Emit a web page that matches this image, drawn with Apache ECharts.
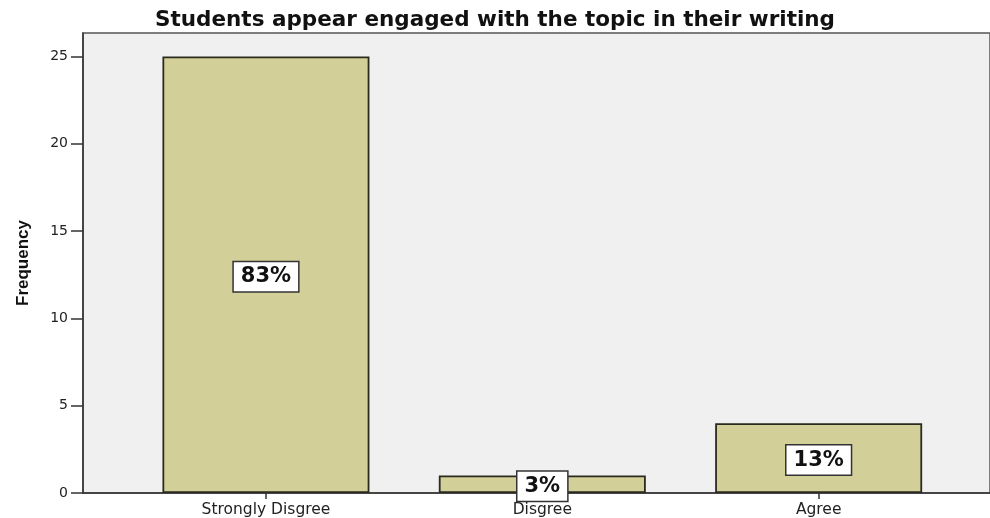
<!DOCTYPE html>
<html>
<head>
<meta charset="utf-8">
<script src="https://cdn.jsdelivr.net/npm/echarts@6/dist/echarts.min.js"></script>
<style>
  html, body { margin: 0; padding: 0; background: #ffffff; }
  #chart { width: 990px; height: 518px; }
</style>
</head>
<body>
<div id="chart"></div>
<script>
// Response categories and their frequencies
const categories = ['Strongly Disgree', 'Disgree', 'Agree'];
const frequencies = [25, 1, 4];
const yTicks = [0, 5, 10, 15, 20, 25];
const xPositions = [0, 1, 2];

const total = frequencies.reduce((a, b) => a + b, 0);
const percentLabels = frequencies.map(v => Math.round(v / total * 100) + '%');

const chart = echarts.init(document.getElementById('chart'), null, { renderer: 'canvas' });

const WIDE = "'DejaVu Sans', Verdana, sans-serif";
const ARIAL = "'Liberation Sans', Arial, sans-serif";

chart.setOption({
  animation: false,
  backgroundColor: '#ffffff',
  title: {
    text: 'Students appear engaged with the topic in their writing',
    left: 'center',
    top: 4,
    textStyle: { fontFamily: WIDE, fontSize: 21.5, fontWeight: 'bold', color: '#111111' }
  },
  grid: {
    left: 83, right: -1, top: 33, bottom: 24,
    show: true,
    backgroundColor: '#f0f0f0',
    borderColor: '#555555',
    borderWidth: 1.5
  },
  xAxis: {
    type: 'value',
    min: -0.662,
    max: 2.62,
    splitLine: { show: false },
    axisLine: { show: true, onZero: false, lineStyle: { color: '#333333', width: 1.5 } },
    axisTick: {
      show: true, length: 6,
      customValues: xPositions,
      lineStyle: { color: '#333333', width: 1.5 }
    },
    axisLabel: {
      customValues: xPositions,
      formatter: v => categories[Math.round(v)] || '',
      fontFamily: WIDE, fontSize: 15.5, color: '#222222', margin: 9
    }
  },
  yAxis: {
    type: 'value',
    min: 0,
    max: 26.34,
    name: 'Frequency',
    nameLocation: 'middle',
    nameGap: 51,
    nameTextStyle: { fontFamily: ARIAL, fontSize: 17, fontWeight: 'bold', color: '#111111' },
    splitLine: { show: false },
    axisLine: { show: true, onZero: false, lineStyle: { color: '#333333', width: 1.5 } },
    axisTick: {
      show: true, length: 12,
      customValues: yTicks,
      lineStyle: { color: '#333333', width: 1.5 }
    },
    axisLabel: {
      customValues: yTicks,
      fontFamily: WIDE, fontSize: 14, color: '#222222', margin: 15
    }
  },
  series: [{
    type: 'bar',
    data: frequencies.map((v, i) => [xPositions[i], v]),
    barWidth: 207,
    itemStyle: {
      color: '#d3cf98',
      borderColor: '#2b2a1e',
      borderWidth: 1.8
    },
    label: {
      show: true,
      position: 'inside',
      offset: [0, 2],
      formatter: p => percentLabels[p.dataIndex],
      fontFamily: WIDE,
      fontSize: 21,
      fontWeight: 'bold',
      color: '#111111',
      lineHeight: 24,
      backgroundColor: '#ffffff',
      borderColor: '#333333',
      borderWidth: 1.5,
      padding: [4, 7, 1, 7]
    }
  }]
});
</script>
</body>
</html>
